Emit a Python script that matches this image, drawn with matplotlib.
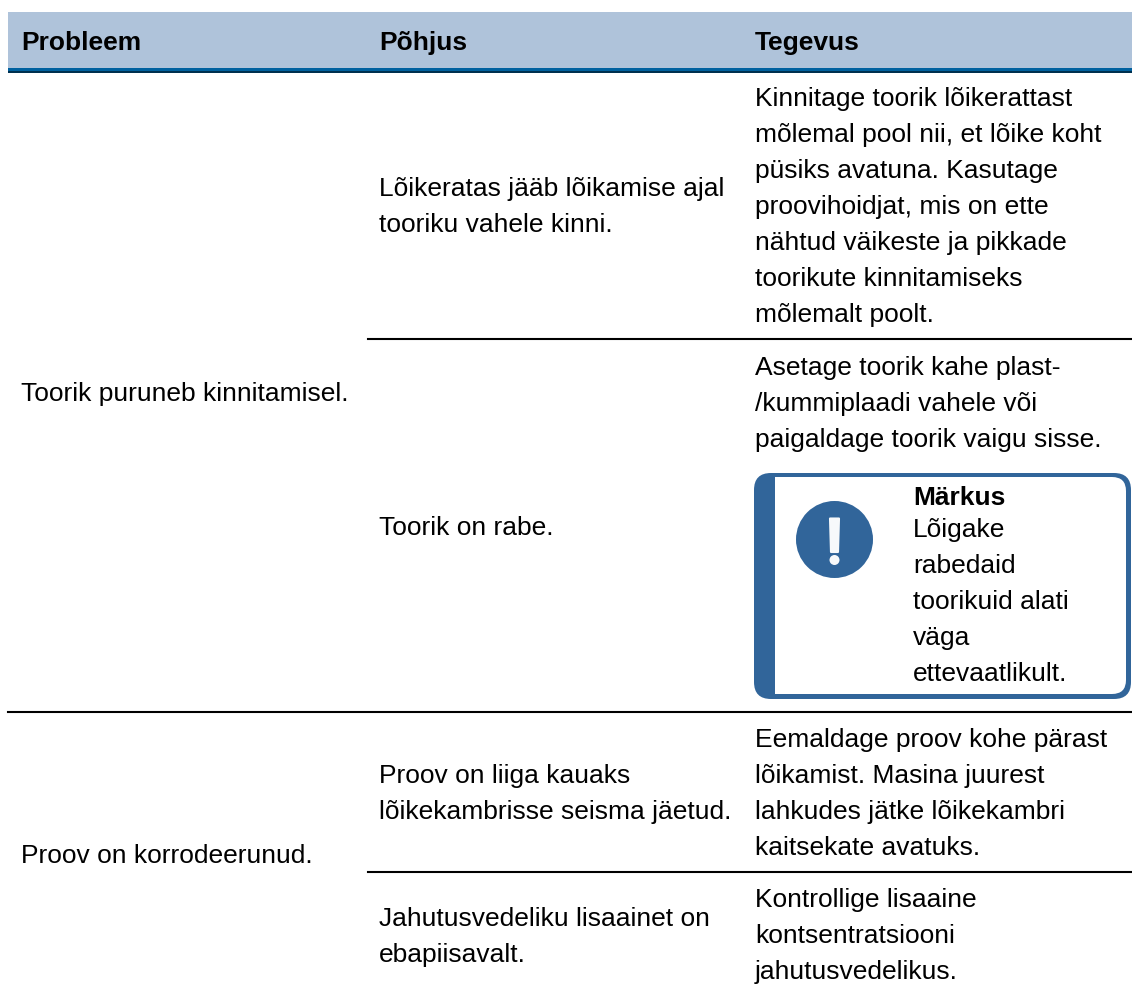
"""Veaotsingu tabel: Probleem / Põhjus / Tegevus"""
import matplotlib
matplotlib.use("Agg")
import matplotlib.pyplot as plt
from matplotlib.patches import Circle, FancyBboxPatch, PathPatch, Polygon, Rectangle
from matplotlib.path import Path

HEADERS = ["Probleem", "Põhjus", "Tegevus"]
PROBLEMS = ["Toorik puruneb kinnitamisel.", "Proov on korrodeerunud."]
CAUSES = [
    ["Lõikeratas jääb lõikamise ajal", "tooriku vahele kinni."],
    ["Toorik on rabe."],
    ["Proov on liiga kauaks", "lõikekambrisse seisma jäetud."],
    ["Jahutusvedeliku lisaainet on", "ebapiisavalt."],
]
ACTIONS = [
    ["Kinnitage toorik lõikerattast", "mõlemal pool nii, et lõike koht",
     "püsiks avatuna. Kasutage", "proovihoidjat, mis on ette",
     "nähtud väikeste ja pikkade", "toorikute kinnitamiseks", "mõlemalt poolt."],
    ["Asetage toorik kahe plast-", "/kummiplaadi vahele või",
     "paigaldage toorik vaigu sisse."],
    ["Eemaldage proov kohe pärast", "lõikamist. Masina juurest",
     "lahkudes jätke lõikekambri", "kaitsekate avatuks."],
    ["Kontrollige lisaaine", "kontsentratsiooni", "jahutusvedelikus."],
]
NOTE_TITLE = "Märkus"
NOTE_LINES = ["Lõigake", "rabedaid", "toorikuid alati", "väga", "ettevaatlikult."]

W, H = 1132, 992
FONT = 19.0
LINE = 36
BLUE = "#31659a"

plt.rcParams["font.family"] = ["Liberation Sans", "DejaVu Sans"]
fig = plt.figure(figsize=(W / 100, H / 100), dpi=100)
ax = fig.add_axes([0, 0, 1, 1])
ax.set_xlim(0, W)
ax.set_ylim(H, 0)
ax.axis("off")


def lines(x, base, rows, step=LINE):
    for i, row in enumerate(rows):
        ax.text(x, base + i * step, row, fontsize=FONT, va="baseline", color="black")


# päis
ax.add_patch(Rectangle((8, 12), W - 8, 56, fc="#afc3da", ec="none"))
ax.add_patch(Rectangle((8, 68), W - 8, 3.2, fc="#00619f", ec="none"))
ax.add_patch(Rectangle((8, 71.2), W - 8, 1.5, fc="#00304f", ec="none"))
for x, head in zip([21, 379, 755], HEADERS):
    ax.text(x, 50, head, fontsize=FONT, fontweight="bold", va="baseline")

# jooned
ax.plot([368, W], [339, 339], color="black", lw=1.5)
ax.plot([8, W], [712, 712], color="black", lw=1.5)
ax.plot([368, W], [872, 872], color="black", lw=1.5)

# tekst
lines(21, 401, [PROBLEMS[0]])
lines(21, 863, [PROBLEMS[1]])
lines(379, 196, CAUSES[0])
lines(379, 535, CAUSES[1])
lines(379, 783, CAUSES[2])
lines(379, 926, CAUSES[3])
lines(755, 106, ACTIONS[0])
lines(755, 375, ACTIONS[1])
lines(755, 747, ACTIONS[2])
lines(755, 907, ACTIONS[3])

# märkuse kast
ax.add_patch(FancyBboxPatch((754, 473), 377, 226, boxstyle="round,pad=0,rounding_size=17",
                            fc=BLUE, ec="none"))
ax.add_patch(PathPatch(Path(
    [(775, 477), (1112, 477), (1126, 477), (1126, 491), (1126, 680), (1126, 694),
     (1112, 694), (775, 694), (775, 477)],
    [Path.MOVETO, Path.LINETO, Path.CURVE3, Path.CURVE3, Path.LINETO, Path.CURVE3,
     Path.CURVE3, Path.LINETO, Path.CLOSEPOLY]), fc="white", ec="none"))
ax.add_patch(Circle((834.5, 539.5), 38.5, fc=BLUE, ec="none"))
# hüüumärk
ax.add_patch(Polygon([(830, 518.5), (839, 518.5), (838, 552), (831, 552)],
                     closed=True, fc="#f7f9fb", ec="#f7f9fb", lw=1.5, joinstyle="round"))
ax.add_patch(Circle((834.5, 560), 5, fc="#f7f9fb", ec="none"))
ax.text(913, 505, NOTE_TITLE, fontsize=FONT, fontweight="bold", va="baseline")
lines(913, 537, NOTE_LINES)

fig.savefig("out.png", dpi=100)
